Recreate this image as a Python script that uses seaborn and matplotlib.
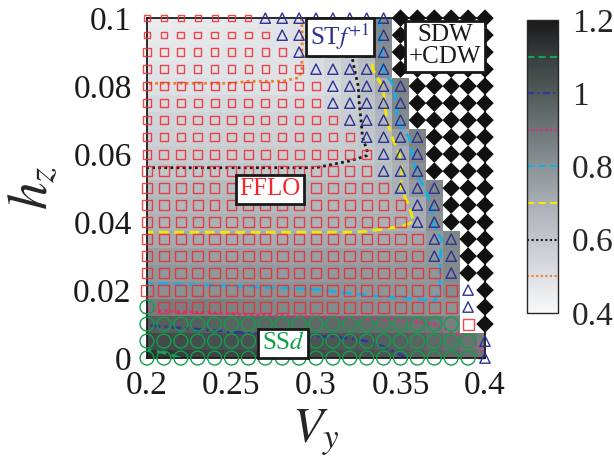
import numpy as np
import pandas as pd
import matplotlib
matplotlib.use('Agg')
import matplotlib.pyplot as plt
import seaborn as sns
from matplotlib.colors import LinearSegmentedColormap
from matplotlib.ticker import FormatStrFormatter

nan = np.nan

# grid of the phase diagram
vy = [0.20, 0.21, 0.22, 0.23, 0.24, 0.25, 0.26, 0.27, 0.28, 0.29, 0.30,
      0.31, 0.32, 0.33, 0.34, 0.35, 0.36, 0.37, 0.38, 0.39, 0.40]
hz = [0.000, 0.005, 0.010, 0.015, 0.020, 0.025, 0.030, 0.035, 0.040, 0.045, 0.050,
      0.055, 0.060, 0.065, 0.070, 0.075, 0.080, 0.085, 0.090, 0.095, 0.100]

# phase at each grid point, one string per hz row (bottom -> top)
# c = SSd, s = FFLO, t = STf+1, d = SDW+CDW
phase_rows = [
    'cccccccccccccccccccct',
    'cccccccccccccccccccct',
    'cccccccccccccccccccsd',
    'c' + 'ssssssssssssssssss' + 'td',
    'sssssssssssssssssss' + 'td',
    'ssssssssssssssssss' + 'tdd',
    'sssssssssssssssss' + 'ttdd',
    'sssssssssssssssss' + 'ttdd',
    'ssssssssssssssss' + 'ttddd',
    'ssssssssssssssss' + 'ttddd',
    'sssssssssssssss' + 'tttddd',
    'ssssssssssssss' + 'tttdddd',
    'ssssssssssssss' + 'tttdddd',
    'sssssssssssss' + 'ttttdddd',
    'ssssssssssss' + 'ttttddddd',
    'sssssssssss' + 'tttttddddd',
    'sssssssssss' + 'tttttddddd',
    'ssssssssss' + 'tttttdddddd',
    'sssssssss' + 'ttttttdddddd',
    'ssssssss' + 'tttttttdddddd',
    'sssssss' + 'ttttttttdddddd',
]

# gray-scale quantity behind the markers (blank = SDW+CDW region)
gap = [
    [1.14, 1.12, 1.10, 1.09, 1.08, 1.075, 1.07, 1.065, 1.06, 1.055, 1.05, 1.045, 1.04, 1.03, 1.02, 1.005, 0.99, 0.97, 0.95, 0.93, 0.91],
    [1.06, 1.055, 1.05, 1.045, 1.04, 1.035, 1.03, 1.028, 1.025, 1.022, 1.02, 1.016, 1.01, 1.0, 0.99, 0.98, 0.97, 0.955, 0.935, 0.91, 0.88],
    [0.995, 0.99, 0.985, 0.98, 0.975, 0.97, 0.965, 0.96, 0.955, 0.95, 0.95, 0.95, 0.945, 0.94, 0.935, 0.93, 0.915, 0.9, 0.87, nan, nan],
    [0.88, 0.875, 0.87, 0.865, 0.86, 0.855, 0.85, 0.845, 0.84, 0.835, 0.83, 0.825, 0.82, 0.818, 0.815, 0.812, 0.81, 0.805, 0.80, nan, nan],
    [0.81, 0.81, 0.809, 0.808, 0.807, 0.806, 0.805, 0.804, 0.803, 0.802, 0.801, 0.798, 0.795, 0.793, 0.79, 0.79, 0.79, 0.79, 0.82, nan, nan],
    [0.785, 0.785, 0.784, 0.783, 0.782, 0.78, 0.78, 0.779, 0.778, 0.777, 0.776, 0.775, 0.775, 0.775, 0.775, 0.776, 0.778, 0.785, 0.83, nan, nan],
    [0.76, 0.76, 0.758, 0.757, 0.756, 0.755, 0.755, 0.755, 0.755, 0.755, 0.755, 0.755, 0.755, 0.755, 0.758, 0.76, 0.765, 0.78, 0.835, nan, nan],
    [0.71, 0.71, 0.71, 0.71, 0.71, 0.71, 0.71, 0.71, 0.71, 0.71, 0.71, 0.71, 0.71, 0.71, 0.715, 0.72, 0.73, 0.77, 0.84, nan, nan],
    [0.685, 0.685, 0.685, 0.685, 0.685, 0.685, 0.685, 0.685, 0.685, 0.685, 0.685, 0.685, 0.685, 0.688, 0.69, 0.693, 0.702, 0.81, nan, nan, nan],
    [0.665, 0.665, 0.665, 0.665, 0.665, 0.665, 0.665, 0.665, 0.665, 0.665, 0.665, 0.665, 0.67, 0.67, 0.675, 0.69, 0.71, 0.82, nan, nan, nan],
    [0.645, 0.645, 0.645, 0.645, 0.645, 0.645, 0.645, 0.645, 0.645, 0.645, 0.645, 0.65, 0.65, 0.655, 0.665, 0.70, 0.77, 0.84, nan, nan, nan],
    [0.605, 0.605, 0.605, 0.605, 0.605, 0.605, 0.605, 0.605, 0.605, 0.605, 0.605, 0.61, 0.615, 0.62, 0.64, 0.69, 0.81, nan, nan, nan, nan],
    [0.58, 0.58, 0.58, 0.58, 0.58, 0.58, 0.58, 0.58, 0.58, 0.58, 0.58, 0.585, 0.59, 0.598, 0.63, 0.705, 0.84, nan, nan, nan, nan],
    [0.565, 0.565, 0.565, 0.565, 0.565, 0.565, 0.565, 0.565, 0.565, 0.565, 0.57, 0.575, 0.585, 0.605, 0.65, 0.75, 0.85, nan, nan, nan, nan],
    [0.55, 0.55, 0.55, 0.55, 0.55, 0.55, 0.55, 0.55, 0.55, 0.55, 0.555, 0.565, 0.58, 0.61, 0.67, 0.83, nan, nan, nan, nan, nan],
    [0.525, 0.525, 0.525, 0.525, 0.525, 0.525, 0.525, 0.525, 0.525, 0.525, 0.53, 0.545, 0.575, 0.62, 0.69, 0.84, nan, nan, nan, nan, nan],
    [0.502, 0.502, 0.502, 0.502, 0.502, 0.502, 0.502, 0.502, 0.502, 0.502, 0.51, 0.53, 0.57, 0.63, 0.705, 0.86, nan, nan, nan, nan, nan],
    [0.49, 0.49, 0.49, 0.49, 0.49, 0.49, 0.495, 0.495, 0.495, 0.498, 0.51, 0.54, 0.585, 0.64, 0.81, nan, nan, nan, nan, nan, nan],
    [0.475, 0.475, 0.475, 0.48, 0.48, 0.485, 0.485, 0.49, 0.49, 0.497, 0.515, 0.55, 0.595, 0.66, 0.82, nan, nan, nan, nan, nan, nan],
    [0.465, 0.465, 0.47, 0.47, 0.475, 0.48, 0.48, 0.485, 0.49, 0.495, 0.52, 0.56, 0.62, 0.67, 0.83, nan, nan, nan, nan, nan, nan],
    [0.455, 0.455, 0.46, 0.46, 0.465, 0.47, 0.475, 0.48, 0.485, 0.495, 0.53, 0.57, 0.63, 0.69, 0.84, nan, nan, nan, nan, nan, nan],
]

# FFLO marker size (px) shrinks towards large hz
fflo_amp = [11, 11, 11, 11, 11, 10.5, 10.5, 10, 10, 9.5, 9.5,
            9, 8.5, 8, 8, 7.5, 7.5, 7, 7, 6.5, 6]

levels = [0.5, 0.6, 0.7, 0.8, 0.9, 1.0, 1.1]
line_colors = ['#f07f2a', '#1a1a1a', '#f5e900', '#19aee6', '#e2288a', '#2d3a9c', '#14a454']
line_styles = [(0, (1, 1.2)), (0, (1, 1.2)), (0, (3.5, 2)), (0, (3.5, 2)),
               (0, (1, 1.2)), (0, (3.5, 1.5, 1, 1.5)), (0, (3.5, 2))]

assert all(len(r) == 21 for r in phase_rows)
assert all(len(r) == 21 for r in gap)

sns.set_style('white')
plt.rcParams['font.family'] = ['Liberation Serif', 'DejaVu Serif']
plt.rcParams['mathtext.fontset'] = 'stix'

fig = plt.figure(figsize=(6.14, 4.65), dpi=100)
ax = fig.add_axes([0.2394, 0.230, 0.5505, 0.731])
cax = fig.add_axes([0.858, 0.327, 0.0505, 0.630])

gray_map = LinearSegmentedColormap.from_list(
    'pd', ['#f9f9f9', '#dde0e4', '#c3c8cd', '#a8aeb3', '#8c9397',
           '#6f7676', '#535a5a', '#373e3e', '#1a1a1a'])
Z = np.ma.masked_invalid(np.array(gap))
mesh = ax.pcolormesh(vy, hz, Z, cmap=gray_map, vmin=0.4, vmax=1.2, shading='nearest')
cs = ax.contour(vy, hz, Z, levels=levels, colors=line_colors,
                linestyles=line_styles, linewidths=2.0)

# long table of grid points
rows = []
for i, prow in enumerate(phase_rows):
    for j, p in enumerate(prow):
        rows.append({'Vy': vy[j], 'hz': hz[i], 'phase': p, 'amp': fflo_amp[i]})
df = pd.DataFrame(rows)

sns.scatterplot(data=df[df.phase == 's'], x='Vy', y='hz', size='amp', sizes=(19, 63),
                size_norm=(6, 11), marker='s', facecolor='none', edgecolor='#ee2a2e',
                linewidth=1.0, alpha=0.85, legend=False, ax=ax, zorder=3, clip_on=False)
sns.scatterplot(data=df[df.phase == 'c'], x='Vy', y='hz', marker='o', s=100,
                facecolor='none', edgecolor='#10a04c', linewidth=1.0,
                legend=False, ax=ax, zorder=3, clip_on=False)
sns.scatterplot(data=df[df.phase == 't'], x='Vy', y='hz', marker='^', s=55,
                facecolor='none', edgecolor='#2e3192', linewidth=1.0,
                legend=False, ax=ax, zorder=3, clip_on=False)
sns.scatterplot(data=df[df.phase == 'd'], x='Vy', y='hz', marker='D', s=80,
                color='#111111', edgecolor='none',
                legend=False, ax=ax, zorder=3, clip_on=False)

box = dict(boxstyle='square,pad=0.15', fc='white', ec='#1a1a1a', lw=2)
ax.text(0.2728, 0.0496, 'FFLO', color='#ee2a2e', fontsize=18, ha='center', va='center', bbox=box, zorder=5)
ax.text(0.2805, 0.0043, r'SS$d$', color='#10a04c', fontsize=18, ha='center', va='center', bbox=box, zorder=5)
ax.text(0.3142, 0.0944, r'ST$f^{+1}$', color='#2e3192', fontsize=18, ha='center', va='center', bbox=box, zorder=5)
ax.text(0.3763, 0.0917, 'SDW\n+CDW', color='#1a1a1a', fontsize=18, ha='center', va='center',
        linespacing=1.0, bbox=box, zorder=5)

ax.set_xlim(0.2, 0.4)
ax.set_ylim(0, 0.1)
ax.set_xticks([0.2, 0.25, 0.3, 0.35, 0.4])
ax.set_yticks([0, 0.02, 0.04, 0.06, 0.08, 0.1])
ax.xaxis.set_major_formatter(FormatStrFormatter('%g'))
ax.yaxis.set_major_formatter(FormatStrFormatter('%g'))
ax.tick_params(direction='in', top=True, right=True, length=5, width=1, labelsize=24, colors='#1a1a1a')
ax.tick_params(axis='x', pad=9)
ax.tick_params(axis='y', pad=11)
for sp in ax.spines.values():
    sp.set_linewidth(1.3)
    sp.set_color('#1a1a1a')
ax.set_xlabel(r'$V_y$', fontsize=36)
ax.set_ylabel(r'$h_z$', fontsize=40)
ax.xaxis.set_label_coords(0.5, -0.145)
ax.yaxis.set_label_coords(-0.26, 0.5)

cbar = fig.colorbar(mesh, cax=cax)
cbar.add_lines(cs)
cbar.lines[-1].set_linestyles(line_styles)
cbar.lines[-1].set_linewidths(1.5)
cbar.set_ticks([0.4, 0.6, 0.8, 1.0, 1.2])
cbar.ax.yaxis.set_major_formatter(FormatStrFormatter('%g'))
cbar.ax.tick_params(labelsize=24, length=0, pad=10)
cbar.outline.set_linewidth(1.0)

fig.savefig('out.png', dpi=100)
